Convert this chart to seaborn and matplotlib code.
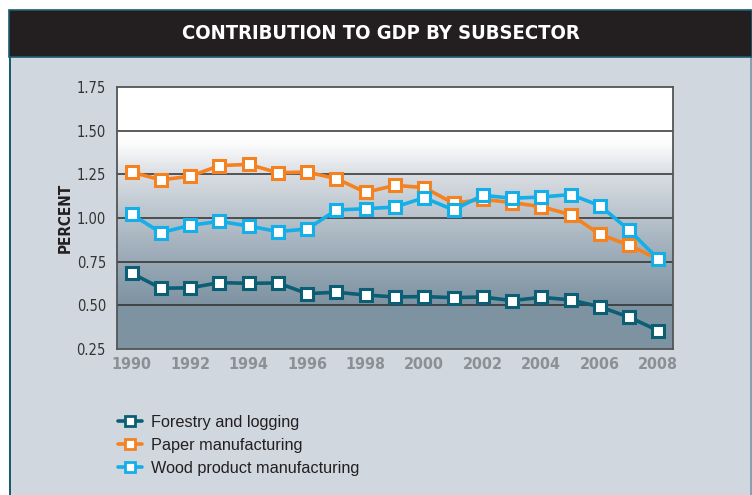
import numpy as np
import pandas as pd
import matplotlib
matplotlib.use("Agg")
import matplotlib.pyplot as plt
from matplotlib.colors import LinearSegmentedColormap
from matplotlib.patches import Rectangle
from matplotlib import font_manager
import seaborn as sns

years = list(range(1990, 2009))
forestry = [0.684, 0.598, 0.600, 0.630, 0.626, 0.628, 0.567, 0.575, 0.559, 0.548,
            0.550, 0.544, 0.548, 0.527, 0.546, 0.531, 0.492, 0.432, 0.355]
paper = [1.263, 1.218, 1.239, 1.300, 1.307, 1.259, 1.263, 1.225, 1.147, 1.187,
         1.174, 1.084, 1.107, 1.088, 1.065, 1.019, 0.907, 0.844, 0.764]
wood = [1.021, 0.916, 0.958, 0.981, 0.954, 0.922, 0.937, 1.046, 1.053, 1.063,
        1.116, 1.046, 1.130, 1.113, 1.120, 1.134, 1.071, 0.931, 0.764]
series_names = ["Forestry and logging", "Paper manufacturing", "Wood product manufacturing"]
series_colors = ["#0b5e73", "#f58220", "#14aee8"]
y_ticks = [0.25, 0.50, 0.75, 1.00, 1.25, 1.50, 1.75]
x_labels = list(range(1990, 2009, 2))

df = pd.DataFrame({
    "year": years * 3,
    "value": forestry + paper + wood,
    "series": sum([[n] * len(years) for n in series_names], []),
})

sns.set_theme(style="white")
plt.rcParams["font.family"] = ["Liberation Sans", "DejaVu Sans"]

# narrow face for headings and axis numbers
installed = {f.name for f in font_manager.fontManager.ttflist}
narrow = "Liberation Sans Narrow" if "Liberation Sans Narrow" in installed else "DejaVu Sans"
narrow_kw = {"family": narrow, "stretch": "condensed"}

W, H = 752, 495
fig = plt.figure(figsize=(W / 100, H / 100), dpi=100)
fig.patch.set_facecolor("white")

# panel background and title bar
fig.patches.append(Rectangle((9 / W, 0), 1 - 9 / W, 1 - 57 / H, transform=fig.transFigure,
                             facecolor="#d0d7df", edgecolor="none", zorder=-3))
fig.patches.append(Rectangle((9 / W, 0), 1.5 / W, 1 - 57 / H, transform=fig.transFigure,
                             facecolor="#1b5d70", edgecolor="none", zorder=-2))
fig.patches.append(Rectangle((750 / W, 0), 2 / W, 1 - 57 / H, transform=fig.transFigure,
                             facecolor="#8aa0ae", edgecolor="none", zorder=-2))
fig.patches.append(Rectangle((9 / W, 1 - 57 / H), 1 - 9 / W, 47.5 / H, transform=fig.transFigure,
                             facecolor="#231f20", edgecolor="#1b5d70", linewidth=1.2, zorder=-2))
fig.text(381 / W, 1 - 33.5 / H, "CONTRIBUTION TO GDP BY SUBSECTOR",
         color="white", fontsize=14.5, fontweight="bold", ha="center", va="center", **narrow_kw)

ax = fig.add_axes([117 / W, 1 - 349 / H, 556 / W, 262 / H])
ax.set_zorder(5)
ax.set_xlim(1989.5, 2008.5)
ax.set_ylim(0.25, 1.75)

# vertical shading of the plotting area
grad = LinearSegmentedColormap.from_list(
    "shade",
    [(0.0, "#7e93a2"), (0.17, "#7e93a2"), (0.33, "#98a8b5"), (0.5, "#b7c2cb"),
     (0.67, "#dadee3"), (0.78, "#fbfbfc"), (0.83, "#ffffff"), (1.0, "#ffffff")])
ax.imshow(np.linspace(0, 1, 300).reshape(-1, 1), cmap=grad, origin="lower",
          extent=[1989.5, 2008.5, 0.25, 1.75], aspect="auto", zorder=0)

for yv in y_ticks[1:-1]:
    ax.axhline(yv, color="#2e2e2e", linewidth=1.1, zorder=1)

sns.lineplot(data=df, x="year", y="value", hue="series", hue_order=series_names,
             palette=series_colors, marker="s", markersize=9, markerfacecolor="white",
             markeredgewidth=2.2, linewidth=2.6, ax=ax, legend=False, zorder=3)
for line, c in zip(ax.get_lines()[-3:], series_colors):
    line.set_markeredgecolor(c)

ax.set_yticks(y_ticks)
ax.set_yticklabels([f"{v:.2f}" for v in y_ticks], fontsize=10.5, color="#333333", **narrow_kw)
ax.set_xticks(x_labels)
ax.set_xticklabels([str(v) for v in x_labels], fontsize=11.5, color="#8b9096",
                   fontweight="bold", **narrow_kw)
ax.tick_params(axis="x", length=0, pad=6)
ax.tick_params(axis="y", length=0, pad=8)
ax.set_xticks(np.arange(1990.5, 2008, 1.0), minor=True)
ax.tick_params(axis="x", which="minor", direction="in", length=6, width=1.2, color="#444444")
ax.set_xlabel("")
ax.set_ylabel("PERCENT", fontsize=11, fontweight="bold", color="#231f20", labelpad=3, **narrow_kw)
ax.set_ylim(0.25, 1.75)
ax.set_xlim(1989.5, 2008.5)
for s in ax.spines.values():
    s.set_color("#555555")
    s.set_linewidth(1.3)
    s.set_visible(True)

handles = [plt.Line2D([], [], color=c, marker="s", markersize=7, markerfacecolor="white",
                      markeredgecolor=c, markeredgewidth=2, linewidth=2.6) for c in series_colors]
fig.legend(handles, series_names, loc="upper left", bbox_to_anchor=(103 / W, 1 - 400 / H),
           frameon=False, handlelength=1.5, handletextpad=0.55, labelspacing=0.5,
           labelcolor="#231f20", prop={"family": ["Liberation Sans", "DejaVu Sans"], "size": 11.7})

fig.savefig("out.png", dpi=100, facecolor=fig.get_facecolor())
